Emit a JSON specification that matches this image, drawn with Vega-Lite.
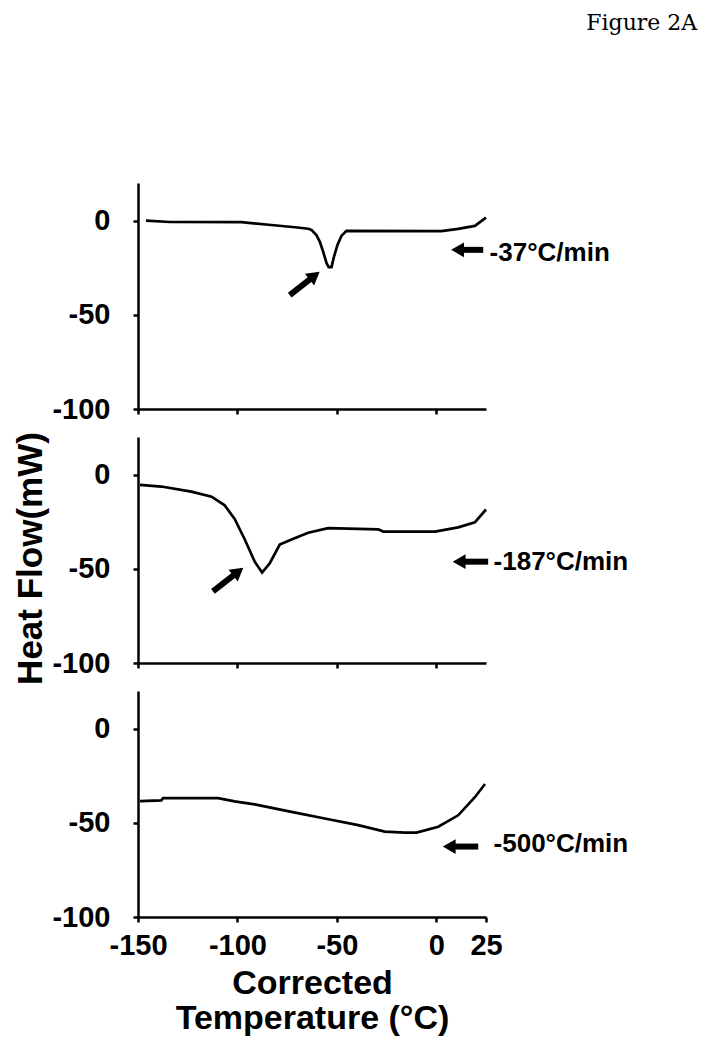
{
  "$schema": "https://vega.github.io/schema/vega-lite/v6.json",
  "padding": {"left": 13, "top": 12, "right": 5, "bottom": 5},
  "bounds": "flush",
  "spacing": 28,
  "title": {"text": "Figure 2A", "anchor": "end", "font": "DejaVu Serif", "fontSize": 22, "fontWeight": "normal", "color": "black", "offset": 148, "dx": 69},
  "config": {
    "view": {"stroke": null},
    "font": "Liberation Sans",
    "axis": {"domainColor": "black", "domainWidth": 2.5, "tickColor": "black", "tickWidth": 2.5, "tickSize": 5, "labelFont": "Liberation Sans", "labelFontWeight": "bold", "labelFontSize": 29, "labelColor": "black", "grid": false, "titleFont": "Liberation Sans", "titleFontWeight": "bold", "titleColor": "black", "labelExpr": "datum.value < 0 ? '-' + abs(datum.value) : '' + datum.value"}
  },
  "datasets": {
    "curve1": [
      {"t": -146, "hf": 0}, {"t": -134, "hf": -0.7}, {"t": -98, "hf": -0.8}, {"t": -83, "hf": -2.3}, {"t": -71, "hf": -3.5},
      {"t": -64.4, "hf": -4.3}, {"t": -62.8, "hf": -4.9}, {"t": -60.3, "hf": -7.6}, {"t": -58.6, "hf": -11.1}, {"t": -56.9, "hf": -16.4},
      {"t": -55.2, "hf": -22.5}, {"t": -54.1, "hf": -24.7}, {"t": -52.7, "hf": -24.7}, {"t": -51.4, "hf": -19}, {"t": -49.7, "hf": -12.9},
      {"t": -47.7, "hf": -8.1}, {"t": -45.2, "hf": -5.4}, {"t": 2.6, "hf": -5.5}, {"t": 11, "hf": -4.4}, {"t": 19.4, "hf": -2.8}, {"t": 25, "hf": 1.6}
    ],
    "curve2": [
      {"t": -149, "hf": -5.4}, {"t": -138.3, "hf": -6.3}, {"t": -123.2, "hf": -9}, {"t": -113, "hf": -11.7}, {"t": -106.4, "hf": -16.3},
      {"t": -101.4, "hf": -23.5}, {"t": -96.3, "hf": -34.4}, {"t": -91.3, "hf": -46.2}, {"t": -87.6, "hf": -52}, {"t": -83.8, "hf": -47.1},
      {"t": -78.7, "hf": -37.1}, {"t": -72.8, "hf": -34.4}, {"t": -64.4, "hf": -30.8}, {"t": -54.4, "hf": -28.4}, {"t": -29.2, "hf": -29},
      {"t": -26.7, "hf": -30.2}, {"t": -0.7, "hf": -30.2}, {"t": 11, "hf": -28}, {"t": 19.4, "hf": -25.3}, {"t": 25, "hf": -18.5}
    ],
    "curve3": [
      {"t": -149, "hf": -38.5}, {"t": -138.3, "hf": -38.1}, {"t": -137.4, "hf": -36.9}, {"t": -109.7, "hf": -36.9}, {"t": -101.4, "hf": -38.6},
      {"t": -91.3, "hf": -40.2}, {"t": -72.8, "hf": -44.2}, {"t": -56.1, "hf": -47.7}, {"t": -39.3, "hf": -51.2}, {"t": -25.9, "hf": -54.7},
      {"t": -15.8, "hf": -55.2}, {"t": -9.9, "hf": -55.2}, {"t": 1, "hf": -52.1}, {"t": 11, "hf": -46}, {"t": 19.4, "hf": -36.4}, {"t": 24.5, "hf": -29.4}
    ],
    "leftArrows": [
      {"panel": 1, "t": 10.7, "t2": 23.6, "hf": -15.5},
      {"panel": 2, "t": 11.5, "t2": 26.1, "hf": -46.2},
      {"panel": 3, "t": 6.5, "t2": 21.1, "hf": -62.6}
    ],
    "diagArrows": [
      {"panel": 1, "t": -61.2, "hf": -29.2, "t2": -73.7, "hf2": -39.5},
      {"panel": 2, "t": -99.6, "hf": -51.5, "t2": -112.3, "hf2": -62.0}
    ],
    "labels": [
      {"panel": 1, "t": 26.8, "hf": -17.1, "label": "-37°C/min"},
      {"panel": 2, "t": 28.8, "hf": -46.2, "label": "-187°C/min"},
      {"panel": 3, "t": 28.8, "hf": -61.5, "label": "-500°C/min"}
    ]
  },
  "vconcat": [
    {
      "width": 348, "height": 226,
      "encoding": {
        "x": {"field": "t", "type": "quantitative", "scale": {"domain": [-150, 25], "nice": false}, "axis": {"values": [-150, -100, -50, 0], "labels": false, "title": null}},
        "y": {"field": "hf", "type": "quantitative", "scale": {"domain": [-100, 20], "nice": false}, "axis": {"values": [-100, -50, 0], "labelPadding": 23, "title": null}}
      },
      "layer": [
        {"data": {"name": "curve1"}, "mark": {"type": "line", "color": "black", "strokeWidth": 2.7}},
        {"data": {"name": "leftArrows"}, "transform": [{"filter": "datum.panel == 1"}], "mark": {"type": "rule", "color": "black", "strokeWidth": 6}, "encoding": {"x2": {"field": "t2"}}},
        {"data": {"name": "leftArrows"}, "transform": [{"filter": "datum.panel == 1"}], "mark": {"type": "point", "shape": "triangle-left", "filled": true, "color": "black", "size": 220, "opacity": 1}},
        {"data": {"name": "diagArrows"}, "transform": [{"filter": "datum.panel == 1"}], "mark": {"type": "rule", "color": "black", "strokeWidth": 6}, "encoding": {"x2": {"field": "t2"}, "y2": {"field": "hf2"}}},
        {"data": {"name": "diagArrows"}, "transform": [{"filter": "datum.panel == 1"}], "mark": {"type": "point", "shape": "triangle-up", "angle": 52, "filled": true, "color": "black", "size": 220, "opacity": 1}},
        {"data": {"name": "labels"}, "transform": [{"filter": "datum.panel == 1"}], "mark": {"type": "text", "align": "left", "baseline": "middle", "font": "Liberation Sans", "fontWeight": "bold", "fontSize": 26, "color": "black"}, "encoding": {"text": {"field": "label"}}}
      ]
    },
    {
      "width": 348, "height": 226,
      "encoding": {
        "x": {"field": "t", "type": "quantitative", "scale": {"domain": [-150, 25], "nice": false}, "axis": {"values": [-150, -100, -50, 0], "labels": false, "title": null}},
        "y": {"field": "hf", "type": "quantitative", "scale": {"domain": [-100, 20], "nice": false}, "axis": {"values": [-100, -50, 0], "labelPadding": 23, "title": "Heat Flow(mW)", "titleFontSize": 35, "titlePadding": 3, "titleY": 121}}
      },
      "layer": [
        {"data": {"name": "curve2"}, "mark": {"type": "line", "color": "black", "strokeWidth": 2.7}},
        {"data": {"name": "leftArrows"}, "transform": [{"filter": "datum.panel == 2"}], "mark": {"type": "rule", "color": "black", "strokeWidth": 6}, "encoding": {"x2": {"field": "t2"}}},
        {"data": {"name": "leftArrows"}, "transform": [{"filter": "datum.panel == 2"}], "mark": {"type": "point", "shape": "triangle-left", "filled": true, "color": "black", "size": 220, "opacity": 1}},
        {"data": {"name": "diagArrows"}, "transform": [{"filter": "datum.panel == 2"}], "mark": {"type": "rule", "color": "black", "strokeWidth": 6}, "encoding": {"x2": {"field": "t2"}, "y2": {"field": "hf2"}}},
        {"data": {"name": "diagArrows"}, "transform": [{"filter": "datum.panel == 2"}], "mark": {"type": "point", "shape": "triangle-up", "angle": 52, "filled": true, "color": "black", "size": 220, "opacity": 1}},
        {"data": {"name": "labels"}, "transform": [{"filter": "datum.panel == 2"}], "mark": {"type": "text", "align": "left", "baseline": "middle", "font": "Liberation Sans", "fontWeight": "bold", "fontSize": 26, "color": "black"}, "encoding": {"text": {"field": "label"}}}
      ]
    },
    {
      "width": 348, "height": 226,
      "encoding": {
        "x": {"field": "t", "type": "quantitative", "scale": {"domain": [-150, 25], "nice": false}, "axis": {"values": [-150, -100, -50, 0, 25], "labelPadding": 9, "labelOverlap": false, "labelFlush": false, "title": ["Corrected", "Temperature (°C)"], "titleFontSize": 34, "titlePadding": 6, "titleLineHeight": 35}},
        "y": {"field": "hf", "type": "quantitative", "scale": {"domain": [-100, 20], "nice": false}, "axis": {"values": [-100, -50, 0], "labelPadding": 23, "title": null}}
      },
      "layer": [
        {"data": {"name": "curve3"}, "mark": {"type": "line", "color": "black", "strokeWidth": 2.7}},
        {"data": {"name": "leftArrows"}, "transform": [{"filter": "datum.panel == 3"}], "mark": {"type": "rule", "color": "black", "strokeWidth": 6}, "encoding": {"x2": {"field": "t2"}}},
        {"data": {"name": "leftArrows"}, "transform": [{"filter": "datum.panel == 3"}], "mark": {"type": "point", "shape": "triangle-left", "filled": true, "color": "black", "size": 220, "opacity": 1}},
        {"data": {"name": "labels"}, "transform": [{"filter": "datum.panel == 3"}], "mark": {"type": "text", "align": "left", "baseline": "middle", "font": "Liberation Sans", "fontWeight": "bold", "fontSize": 26, "color": "black"}, "encoding": {"text": {"field": "label"}}}
      ]
    }
  ]
}
